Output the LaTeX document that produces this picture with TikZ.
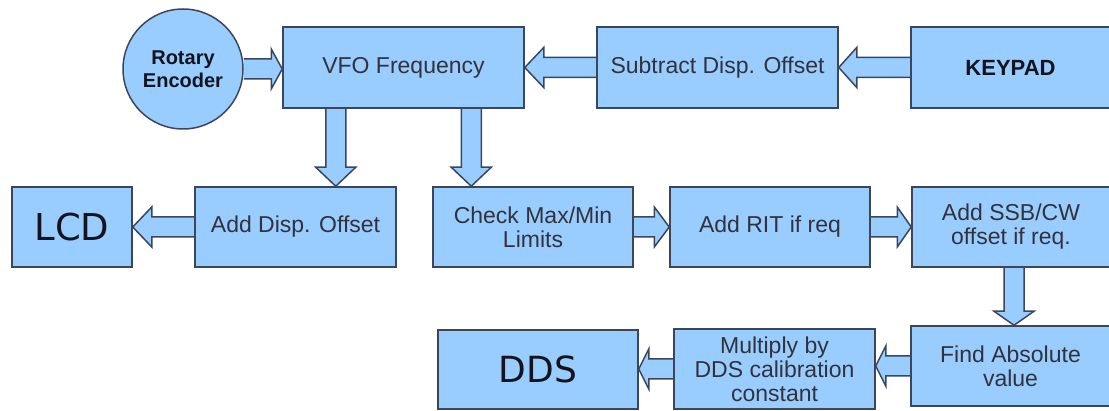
\documentclass[tikz,border=0pt]{standalone}
\usepackage{fontspec}
\setmainfont{Liberation Sans}
\newfontfamily\dejavu{DejaVu Sans}
\usetikzlibrary{calc,backgrounds}

\begin{document}
\begin{tikzpicture}[x=1pt,y=-1pt,line join=miter,
	block/.style={draw=custcol_3c_46_5a, fill=custcol_99_cc_ff, line width=1.5pt, inner sep=0pt, align=center, text=custcol_32_32_3c, font=\fontsize{23pt}{24pt}\selectfont},
	flowarrow/.style={draw=custcol_3c_46_5a, fill=custcol_99_cc_ff, line width=1.5pt}]
	\definecolor{custcol_99_cc_ff}{RGB}{153, 204, 255}
	\definecolor{custcol_3c_46_5a}{RGB}{60, 70, 90}
	\definecolor{custcol_32_32_3c}{RGB}{50, 50, 60}
	\definecolor{custcol_14_14_1e}{RGB}{20, 20, 30}
	% fat block arrow: #1 head length, #2 tail, #3 tip
	\def\fatarrow#1#2#3{%
		\coordinate (hb) at ($(#3)!#1!(#2)$);
		\draw[flowarrow] ($(#2)!10pt!90:(#3)$) -- ($(hb)!10pt!90:(#3)$) -- ($(hb)!20pt!90:(#3)$) -- (#3)
			-- ($(hb)!20pt!-90:(#3)$) -- ($(hb)!10pt!-90:(#3)$) -- ($(#2)!10pt!-90:(#3)$);
	}
	\useasboundingbox (0,0) rectangle (1109,411);

	% top row
	\node[block, circle, minimum size=120pt, text=custcol_14_14_1e, font=\bfseries\fontsize{20pt}{23pt}\selectfont] (enc) at (183,69) {Rotary\\Encoder};
	\node[block, minimum width=241pt, minimum height=81pt] (vfo) at (403.5,67.5) {VFO Frequency};
	\node[block, minimum width=241pt, minimum height=81pt] (sub) at (717.5,67.5) {Subtract Disp. Offset};
	\node[block, minimum width=199pt, minimum height=81pt, text=custcol_14_14_1e, font=\bfseries\fontsize{22pt}{24pt}\selectfont] (key) at (1010.5,67.5) {KEYPAD};

	% middle row
	\node[block, minimum width=120pt, minimum height=80pt, text=custcol_14_14_1e, font=\dejavu\fontsize{37pt}{40pt}\selectfont] (lcd) at (72,227) {LCD};
	\node[block, minimum width=201pt, minimum height=80pt] (adddisp) at (295.5,227) {Add Disp. Offset};
	\node[block, minimum width=200pt, minimum height=80pt] (check) at (533,227) {Check Max/Min\\Limits};
	\node[block, minimum width=200pt, minimum height=80pt] (rit) at (770,227) {Add RIT if req};
	\node[block, minimum width=198pt, minimum height=80pt] (ssb) at (1011,227) {Add SSB/CW\\offset if req.};

	% bottom row
	\node[block, minimum width=200pt, minimum height=79pt, text=custcol_14_14_1e, font=\dejavu\fontsize{36pt}{40pt}\selectfont] (dds) at (538,369.5) {DDS};
	\node[block, minimum width=201pt, minimum height=80pt] (mult) at (774.5,369) {Multiply by\\DDS calibration\\constant};
	\node[block, minimum width=199pt, minimum height=80pt] (absv) at (1010.5,366) {Find Absolute\\value};

	\coordinate (vfoa) at ([xshift=53.5pt]vfo.south west);
	\coordinate (vfob) at ([xshift=189pt]vfo.south west);
	\coordinate (ssba) at ([xshift=3pt]ssb.south);

	\begin{scope}[on background layer]
		\fatarrow{11pt}{enc.east}{vfo.west |- enc.east}
		\fatarrow{19pt}{sub.west}{vfo.east}
		\fatarrow{18pt}{key.west}{sub.east}
		\fatarrow{19pt}{vfoa}{adddisp.north -| vfoa}
		\fatarrow{19pt}{vfob}{check.north -| vfob}
		\fatarrow{19pt}{adddisp.west}{lcd.east}
		\fatarrow{15pt}{check.east}{rit.west}
		\fatarrow{14pt}{rit.east}{ssb.west}
		\fatarrow{14pt}{ssba}{absv.north -| ssba}
		\fatarrow{10pt}{absv.west}{mult.east |- absv.west}
		\fatarrow{10pt}{mult.west}{dds.east |- mult.west}
	\end{scope}
\end{tikzpicture}
\end{document}
